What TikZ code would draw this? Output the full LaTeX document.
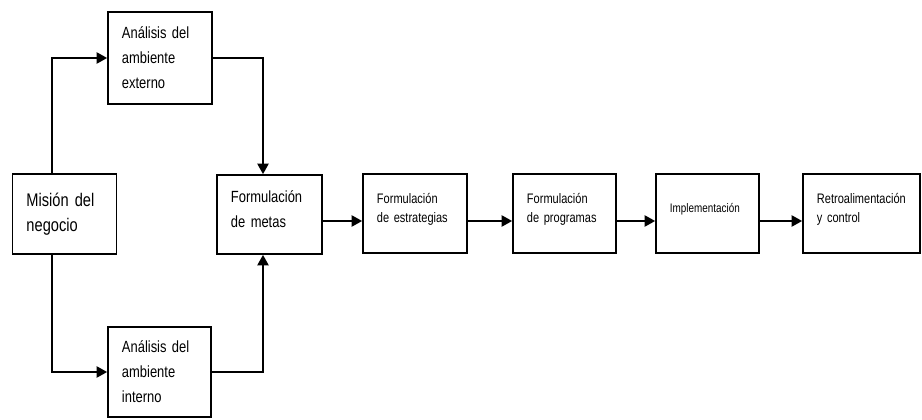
\documentclass[tikz,border=0pt]{standalone}
\usepackage{fontspec}
\setmainfont[FakeStretch=0.8]{Liberation Sans}
\usetikzlibrary{arrows.meta}
\newcommand\liftup{\rule[-8pt]{0pt}{8pt}}

\begin{document}
\begin{tikzpicture}[x=0.025cm,y=-0.025cm,
  line width=1.2pt,
  stage/.style={draw,align=left,inner xsep=0.35cm,inner ysep=0pt,
    text width=1.9cm,minimum height=1.975cm},
  big/.style={font=\fontsize{11.5}{17.7}\selectfont},
  small/.style={font=\fontsize{9.8}{14}\selectfont},
  flow/.style={-{Triangle[length=7.5pt,width=8pt]}}]

  \useasboundingbox (0,0) rectangle (922,420);

  \node[stage,minimum height=2cm,font=\fontsize{13}{17.7}\selectfont] (mision) at (64.5,214){Misión del\\negocio};
  \node[stage,big,minimum height=2.3cm] (externo) at (160,58){Análisis del\\ambiente\\externo};
  \node[stage,big,text width=1.875cm,minimum height=2.25cm] (interno) at (159.5,372){Análisis del\\ambiente\\interno};
  \node[stage,big,text width=1.925cm] (metas) at (269.5,214.5){Formulación\\de metas\liftup};
  \node[stage,small] (estrategias) at (415,213.5){Formulación\\de estrategias\liftup};
  \node[stage,small,text width=1.875cm] (programas) at (564.5,213.5){Formulación\\de programas\liftup};
  \node[stage,text width=1.875cm,font=\fontsize{8.8}{12}\selectfont] (impl) at (707.5,213.5){Implementación\liftup};
  \node[stage,small,text width=2.225cm] (retro) at (861.5,213.5){\mbox{Retroalimentación}\\y control\liftup};

  \coordinate (trunk) at (52,0);
  \coordinate (join) at (263,0);
  \coordinate (line) at (0,221);

  \draw[flow] (mision.north -| trunk) |- (externo.west);
  \draw[flow] (mision.south -| trunk) |- (interno.west);
  \draw[flow] (externo.east) -| (metas.north -| join);
  \draw[flow] (interno.east) -| (metas.south -| join);
  \foreach \a/\b in {metas/estrategias,estrategias/programas,programas/impl,impl/retro}
    \draw[flow] (\a.east |- line) -- (\b.west |- line);
\end{tikzpicture}
\end{document}
